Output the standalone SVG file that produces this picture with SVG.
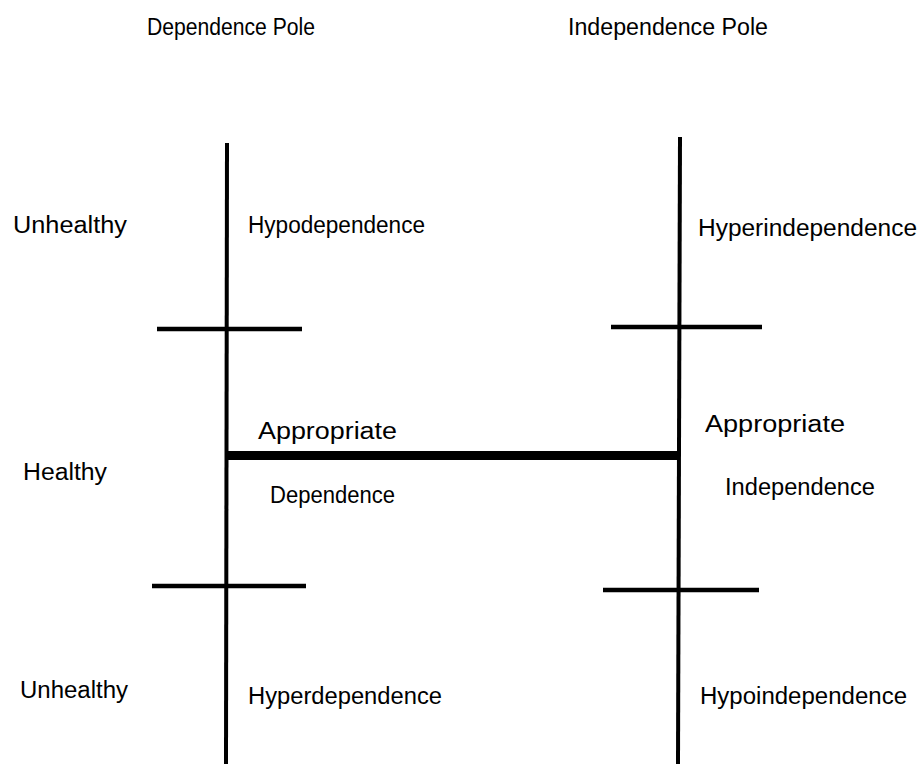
<svg xmlns="http://www.w3.org/2000/svg" width="923" height="764" viewBox="0 0 923 764">
<style>
  text { font-family: "Liberation Sans", "DejaVu Sans", sans-serif; font-size: 23px; fill: #000; }
  .axis { stroke: #000; stroke-width: 4; fill: none; }
  .tick { stroke: #000; stroke-width: 4.5; fill: none; }
  .bar { stroke: #000; stroke-width: 9; fill: none; }
</style>
<rect width="923" height="764" fill="#fff"/>
<g id="connectors">
  <line class="axis" x1="227" y1="143" x2="226" y2="764"/>
  <line class="axis" x1="680" y1="137" x2="678" y2="764"/>
  <line class="tick" x1="157" y1="329" x2="302" y2="329"/>
  <line class="tick" x1="611" y1="327" x2="762" y2="327"/>
  <line class="tick" x1="152" y1="586" x2="306" y2="586"/>
  <line class="tick" x1="603" y1="590" x2="759" y2="590"/>
  <line class="bar" x1="227" y1="455.5" x2="680" y2="455.5"/>
</g>
<g id="dependence-pole"><text x="147" y="35" textLength="168" lengthAdjust="spacingAndGlyphs">Dependence Pole</text></g>
<g id="independence-pole"><text x="568" y="35" textLength="200" lengthAdjust="spacingAndGlyphs">Independence Pole</text></g>
<g id="unhealthy-top"><text x="13" y="233" textLength="114" lengthAdjust="spacingAndGlyphs">Unhealthy</text></g>
<g id="hypodependence"><text x="248" y="233" textLength="177" lengthAdjust="spacingAndGlyphs">Hypodependence</text></g>
<g id="hyperindependence"><text x="698" y="236" textLength="219" lengthAdjust="spacingAndGlyphs">Hyperindependence</text></g>
<g id="healthy"><text x="23" y="480" textLength="84" lengthAdjust="spacingAndGlyphs">Healthy</text></g>
<g id="appropriate-dependence">
  <text x="258" y="439" textLength="139" lengthAdjust="spacingAndGlyphs">Appropriate</text>
  <text x="270" y="503" textLength="125" lengthAdjust="spacingAndGlyphs">Dependence</text>
</g>
<g id="appropriate-independence">
  <text x="705" y="432" textLength="140" lengthAdjust="spacingAndGlyphs">Appropriate</text>
  <text x="725" y="495" textLength="150" lengthAdjust="spacingAndGlyphs">Independence</text>
</g>
<g id="unhealthy-bottom"><text x="20" y="698" textLength="108" lengthAdjust="spacingAndGlyphs">Unhealthy</text></g>
<g id="hyperdependence"><text x="248" y="704" textLength="194" lengthAdjust="spacingAndGlyphs">Hyperdependence</text></g>
<g id="hypoindependence"><text x="700" y="704" textLength="207" lengthAdjust="spacingAndGlyphs">Hypoindependence</text></g>
</svg>
